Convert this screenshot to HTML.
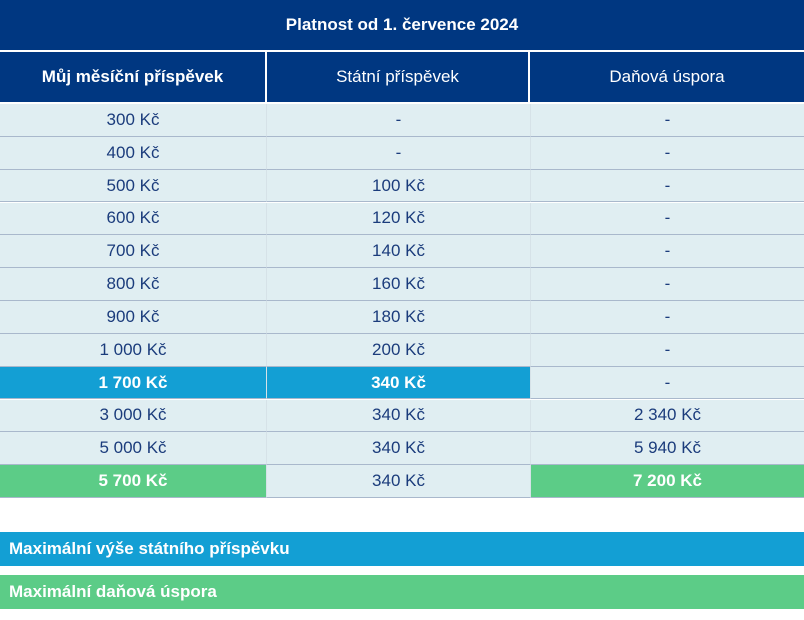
<!DOCTYPE html>
<html><head><meta charset="utf-8"><style>
body{margin:0;width:804px;height:620px;background:#fff;font-family:"Liberation Sans",sans-serif;position:relative;overflow:hidden}
.c{position:absolute;display:flex;align-items:center;justify-content:center;box-sizing:border-box;font-size:17px;color:#1b3c7c}
.h{background:#003781;color:#fff}
.b{font-weight:bold}
.leg{position:absolute;left:0;width:804px;height:34px;color:#fff;font-weight:bold;font-size:17px;display:flex;align-items:center;padding-left:9px;box-sizing:border-box}
</style></head><body>
<div class="c h b" style="left:0;top:0;width:804px;height:50px">Platnost od 1. července 2024</div>
<div class="c h b" style="left:0;top:52px;width:265px;height:50px">Můj měsíční příspěvek</div>
<div class="c h" style="left:267px;top:52px;width:261px;height:50px">Státní příspěvek</div>
<div class="c h" style="left:530px;top:52px;width:274px;height:50px">Daňová úspora</div>
<div id="rows"></div>
<div class="leg" style="top:532px;background:#139fd4">Maximální výše státního příspěvku</div>
<div class="leg" style="top:575px;background:#5ccc87">Maximální daňová úspora</div>
<script>
const mine=["300 Kč","400 Kč","500 Kč","600 Kč","700 Kč","800 Kč","900 Kč","1 000 Kč","1 700 Kč","3 000 Kč","5 000 Kč","5 700 Kč"];
const state=["-","-","100 Kč","120 Kč","140 Kč","160 Kč","180 Kč","200 Kč","340 Kč","340 Kč","340 Kč","340 Kč"];
const tax=["-","-","-","-","-","-","-","-","-","2 340 Kč","5 940 Kč","7 200 Kč"];
const cols=[[0,266],[266,264],[530,274]];
const host=document.getElementById('rows');
const pitch=394/12;
for(let i=0;i<12;i++){
  const top=104+i*pitch;
  const vals=[mine[i],state[i],tax[i]];
  for(let j=0;j<3;j++){
    const d=document.createElement('div');
    d.className='c';
    
    
    let bg='#e0eef2',col='#1b3c7c',bold=false;
    if(i===8&&j<2){bg='#139fd4';col='#fff';bold=true;}
    if(i===11&&j!==1){bg='#5ccc87';col='#fff';bold=true;}
    d.style.cssText=`left:${cols[j][0]}px;top:${top}px;width:${cols[j][1]}px;height:${pitch}px;background:${bg};color:${col};border-bottom:1px solid #a9b8cc;${j>0?'border-left:1px solid #d6e2e8;':''}${bold?'font-weight:bold;':''}`;
    d.textContent=vals[j];
    host.appendChild(d);
  }
}
</script>
</body></html>
